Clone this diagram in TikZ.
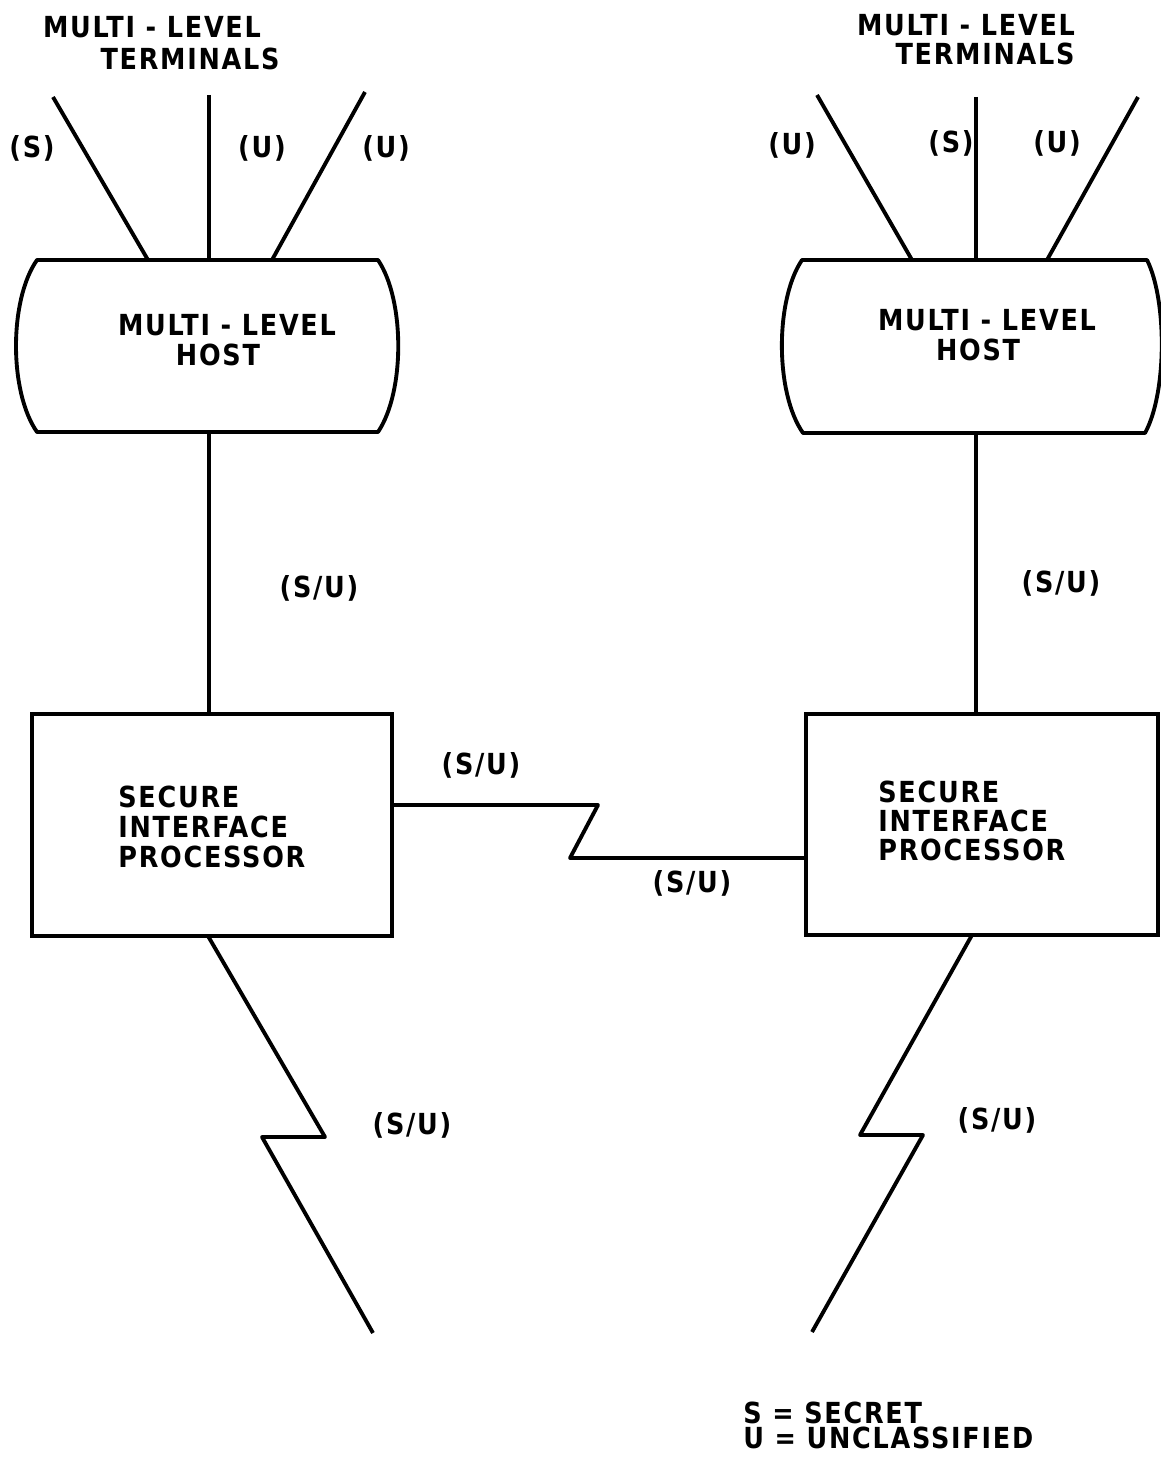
\documentclass[tikz,border=0pt]{standalone}
\usepackage{fontspec}
\setmainfont[LetterSpace=6, FakeStretch=0.88]{DejaVu Sans}
\begin{document}
\begin{tikzpicture}[x=0.02cm,y=-0.02cm,
  every node/.style={font=\fontsize{16.5}{17}\selectfont\bfseries, inner sep=0pt},
  lbl/.style={anchor=center},
  wire/.style={line width=2.2pt, line join=round},
  sipbox/.style={draw, line width=2.2pt, minimum width=360*0.02cm, minimum height=222*0.02cm},
  hostshape/.style={draw, line width=2.2pt, line join=round}]
\useasboundingbox (0,0) rectangle (1160,1459);
\fill[white] (0,0) rectangle (1160,1459);

% ---------- left side ----------
\node[lbl] (tL1) at (152,27) {MULTI - LEVEL};
\node[lbl] (tL2) at (190,59) {TERMINALS};

\coordinate (hLa) at (148,260);
\coordinate (hLb) at (209,260);
\coordinate (hLc) at (272,260);
\coordinate (tLa) at (53,97);
\coordinate (tLb) at (209,95);
\coordinate (tLc) at (365,92);

\draw[hostshape] (37,260) -- (378,260) .. controls (405,300) and (405,392) .. (378,432)
  -- (37,432) .. controls (9,392) and (9,300) .. (37,260) -- cycle;
\node[lbl] (hL1) at (227,325) {MULTI - LEVEL};
\node[lbl] (hL2) at (218,355) {HOST};
\coordinate (hLbot) at (209,432);

\draw[wire] (tLa) -- (hLa);
\draw[wire] (tLb) -- (hLb);
\draw[wire] (tLc) -- (hLc);
\node[lbl] (sL) at (32,148) {(S)};
\node[lbl] (uL1) at (262,148) {(U)};
\node[lbl] (uL2) at (386,148) {(U)};

\node[sipbox] (sipL) at (212,825) {};
\node[anchor=west, align=left, font=\fontsize{16.5}{17}\selectfont\bfseries] (sipLt) at (118,827) {SECURE\\INTERFACE\\PROCESSOR};

\draw[wire] (hLbot) -- (hLbot |- sipL.north);
\node[lbl] (suL) at (319,588) {(S/U)};

% bottom left lightning
\coordinate (bLa) at (208,936);
\coordinate (bLb) at (325,1137);
\coordinate (bLc) at (262,1137);
\coordinate (bLd) at (373,1333);
\draw[wire] (bLa) -- (bLb) -- (bLc) -- (bLd);
\node[lbl] (suLb) at (412,1125) {(S/U)};

% ---------- right side ----------
\node[lbl] (tR1) at (966,25) {MULTI - LEVEL};
\node[lbl] (tR2) at (985,54) {TERMINALS};

\coordinate (hRa) at (912,260);
\coordinate (hRb) at (976,260);
\coordinate (hRc) at (1047,260);
\coordinate (tRa) at (817,95);
\coordinate (tRb) at (976,97);
\coordinate (tRc) at (1138,97);

\draw[hostshape] (802,260) -- (1147,260) .. controls (1167,300) and (1167,393) .. (1145,433)
  -- (803,433) .. controls (775,393) and (775,300) .. (802,260) -- cycle;
\node[lbl] (hR1) at (987,320) {MULTI - LEVEL};
\node[lbl] (hR2) at (978,350) {HOST};
\coordinate (hRbot) at (976,433);

\draw[wire] (tRa) -- (hRa);
\draw[wire] (tRb) -- (hRb);
\draw[wire] (tRc) -- (hRc);
\node[lbl] (uR1) at (792,145) {(U)};
\node[lbl] (sR) at (951,143) {(S)};
\node[lbl] (uR2) at (1057,143) {(U)};

\node[sipbox, minimum width=352*0.02cm, minimum height=221*0.02cm] (sipR) at (982,824.5) {};
\node[anchor=west, align=left, font=\fontsize{16.5}{16.5}\selectfont\bfseries] (sipRt) at (878,821) {SECURE\\INTERFACE\\PROCESSOR};

\draw[wire] (hRbot) -- (hRbot |- sipR.north);
\node[lbl] (suR) at (1061,583) {(S/U)};

% bottom right lightning
\coordinate (bRa) at (972,935);
\coordinate (bRb) at (860,1135);
\coordinate (bRc) at (923,1135);
\coordinate (bRd) at (812,1332);
\draw[wire] (bRa) -- (bRb) -- (bRc) -- (bRd);
\node[lbl] (suRb) at (997,1120) {(S/U)};

% ---------- link between SIPs ----------
\coordinate (z1) at (598,805);
\coordinate (z2) at (570,858);
\draw[wire] (sipL.east |- z1) -- (z1) -- (z2) -- (sipR.west |- z2);
\node[lbl] (suM1) at (481,765) {(S/U)};
\node[lbl] (suM2) at (692,883) {(S/U)};

% ---------- legend ----------
\node[anchor=base west] (leg1) at (743,1423) {S = SECRET};
\node[anchor=base west] (leg2) at (743,1448) {U = UNCLASSIFIED};
\end{tikzpicture}
\end{document}
